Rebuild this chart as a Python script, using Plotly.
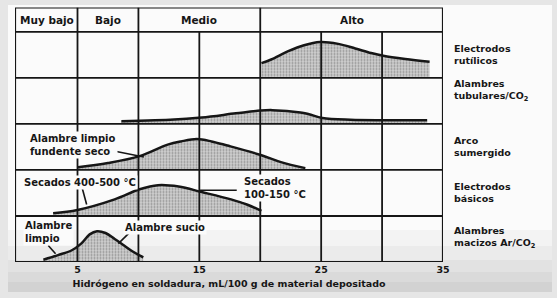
import plotly.graph_objects as go

W, H = 557, 298

# ---- data -------------------------------------------------------------
levels = ["Muy bajo", "Bajo", "Medio", "Alto"]
level_start = [0, 5, 10, 20]
level_end = [5, 10, 20, 35]

processes = [
    "Electrodos<br>rutílicos",
    "Alambres<br>tubulares/CO<sub>2</sub>",
    "Arco<br>sumergido",
    "Electrodos<br>básicos",
    "Alambres<br>macizos Ar/CO<sub>2</sub>",
]
row_base = [4, 3, 2, 1, 0]
label_y = [4.5, 3.72, 2.51, 1.5, 0.53]

# relative height of each distribution inside its row (0..1)
rut_x = [20.1, 20.9, 22.3, 23.6, 24.9, 26.4, 27.8, 29.1, 30.1, 31.9, 33.9]
rut_h = [0.32, 0.40, 0.58, 0.71, 0.78, 0.74, 0.64, 0.54, 0.48, 0.41, 0.35]

tub_x = [8.6, 10.1, 12.6, 15.2, 18.0, 20.0, 21.0, 23.3, 24.0, 25.1, 27.4, 30.1, 33.7]
tub_h = [0.06, 0.07, 0.09, 0.14, 0.23, 0.29, 0.30, 0.25, 0.21, 0.13, 0.09, 0.08, 0.08]

arc_x = [5.04, 7.5, 10.1, 12.4, 13.5, 14.8, 16.0, 17.3, 20.1, 21.7, 23.7]
arc_h = [0.06, 0.15, 0.30, 0.55, 0.62, 0.67, 0.62, 0.53, 0.32, 0.17, 0.04]

bas_x = [3.0, 5.0, 8.05, 10.1, 11.6, 13.3, 15.2, 17.6, 18.9, 20.1]
bas_h = [0.06, 0.13, 0.36, 0.58, 0.67, 0.64, 0.52, 0.36, 0.25, 0.11]

mac_x = [2.2, 3.4, 4.5, 5.3, 6.0, 6.6, 7.3, 8.05, 8.7, 9.4, 10.4]
mac_h = [0.05, 0.15, 0.25, 0.40, 0.60, 0.67, 0.63, 0.50, 0.38, 0.25, 0.10]

curves = [(rut_x, rut_h), (tub_x, tub_h), (arc_x, arc_h), (bas_x, bas_h), (mac_x, mac_h)]

x_ticks = [5, 15, 25, 35]
x_title = "Hidrógeno en soldadura, mL/100 g de material depositado"

# in-chart notes: (text, x, y)  and leader lines: (x_tail, y_tail, x_head, y_head)
notes = [
    ("Alambre limpio<br>fundente seco", 0.94, 2.54),
    ("Secados 400-500 °C", 0.44, 1.72),
    ("Secados<br>100-150 °C", 18.5, 1.61),
    ("Alambre<br>limpio", 0.53, 0.65),
    ("Alambre sucio", 8.74, 0.76),
]
leaders = [
    (7.68, 2.43, 10.45, 2.28),
    (5.34, 1.65, 5.75, 1.25),
    (18.07, 1.56, 15.06, 1.56),
    (2.6, 0.36, 3.2, 0.18),
    (9.31, 0.65, 8.35, 0.40),
]

# ---- figure -------------------------------------------------------------
X0, X1 = -0.13, 35
Y_TOP = 5.53
INK = "#161616"
FONT = "DejaVu Sans"

fig = go.Figure()

for (xs, hs), base in zip(curves, row_base):
    fig.add_trace(go.Scatter(
        x=xs, y=[base] * len(xs), mode="lines",
        line=dict(width=0, color="rgba(0,0,0,0)"),
        hoverinfo="skip", showlegend=False))
    fig.add_trace(go.Scatter(
        x=xs, y=[base + h for h in hs], mode="lines",
        line=dict(color=INK, width=2.5, shape="spline", smoothing=1.0),
        fill="tonexty", fillcolor="#c8c8c8",
        fillpattern=dict(shape=".", size=3, solidity=0.4,
                         fgcolor="#505050", bgcolor="#d2d2d2"),
        hoverinfo="skip", showlegend=False))

shapes = []
# paper + scan shading
shapes.append(dict(type="rect", xref="paper", yref="paper",
                   x0=8 / W, x1=552 / W, y0=1 - 292 / H, y1=1 - 5 / H,
                   fillcolor="#fbfbfb", line=dict(width=0), layer="below"))
bands = [(230, 246, "#f3f3f3"), (246, 260, "#ebebeb"), (260, 272, "#e2e2e2"),
         (272, 282, "#dadada"), (282, 292, "#d2d2d2")]
for t, b, c in bands:
    shapes.append(dict(type="rect", xref="paper", yref="paper",
                       x0=8 / W, x1=552 / W, y0=1 - b / H, y1=1 - t / H,
                       fillcolor=c, line=dict(width=0), layer="below"))

grid = dict(color=INK, width=1.8)
# frame
shapes.append(dict(type="rect", xref="x", yref="y", x0=X0, x1=X1, y0=0, y1=Y_TOP,
                   line=dict(color=INK, width=2.2), layer="above"))
# row separators (incl. header bottom)
for yv in [1, 2, 3, 4, 5]:
    shapes.append(dict(type="line", xref="x", yref="y", x0=X0, x1=X1, y0=yv, y1=yv,
                       line=grid, layer="above"))
# header dividers go through the header row
for xv in level_start[1:]:
    shapes.append(dict(type="line", xref="x", yref="y", x0=xv, x1=xv, y0=0, y1=Y_TOP,
                       line=grid, layer="above"))
# other grid lines stop at the header
for xv in [15, 25, 30]:
    shapes.append(dict(type="line", xref="x", yref="y", x0=xv, x1=xv, y0=0, y1=5,
                       line=grid, layer="above"))
# leader lines of the notes
for (xt, yt, xh, yh) in leaders:
    shapes.append(dict(type="line", xref="x", yref="y", x0=xt, y0=yt, x1=xh, y1=yh,
                       line=dict(color=INK, width=1.6), layer="above"))

annotations = []
for name, a, b in zip(levels, level_start, level_end):
    annotations.append(dict(x=(a + b) / 2, y=5.265, xref="x", yref="y", text=name,
                            showarrow=False, font=dict(family=FONT, size=10.5,
                                                       color=INK, weight="bold")))
for name, yv in zip(processes, label_y):
    annotations.append(dict(x=452 / W, y=yv, xref="paper", yref="y", text=name,
                            xanchor="left", align="left", showarrow=False,
                            font=dict(family=FONT, size=9.5, color=INK, weight="bold")))
for text, xv, yv in notes:
    annotations.append(dict(x=xv, y=yv, xref="x", yref="y", text=text,
                            xanchor="left", align="left", showarrow=False,
                            bgcolor="#fbfbfb", borderpad=1,
                            font=dict(family=FONT, size=10, color=INK, weight="bold")))

fig.update_layout(
    width=W, height=H,
    margin=dict(l=0, r=0, t=0, b=0),
    paper_bgcolor="#e6e6e6",
    plot_bgcolor="rgba(0,0,0,0)",
    shapes=shapes,
    annotations=annotations,
    showlegend=False,
    xaxis=dict(range=[X0, X1], domain=[15 / W, 443 / W],
               tickvals=x_ticks, ticktext=[str(v) for v in x_ticks],
               ticks="", showgrid=False, zeroline=False, showline=False,
               automargin=False, fixedrange=True,
               tickfont=dict(family=FONT, size=9.5, color=INK, weight="bold"),
               title=dict(text=x_title, standoff=6,
                          font=dict(family=FONT, size=9.5, color=INK, weight="bold"))),
    yaxis=dict(range=[0, Y_TOP], domain=[1 - 262 / H, 1 - 7.5 / H],
               visible=False, fixedrange=True, automargin=False),
)

fig.write_html("out.html")
